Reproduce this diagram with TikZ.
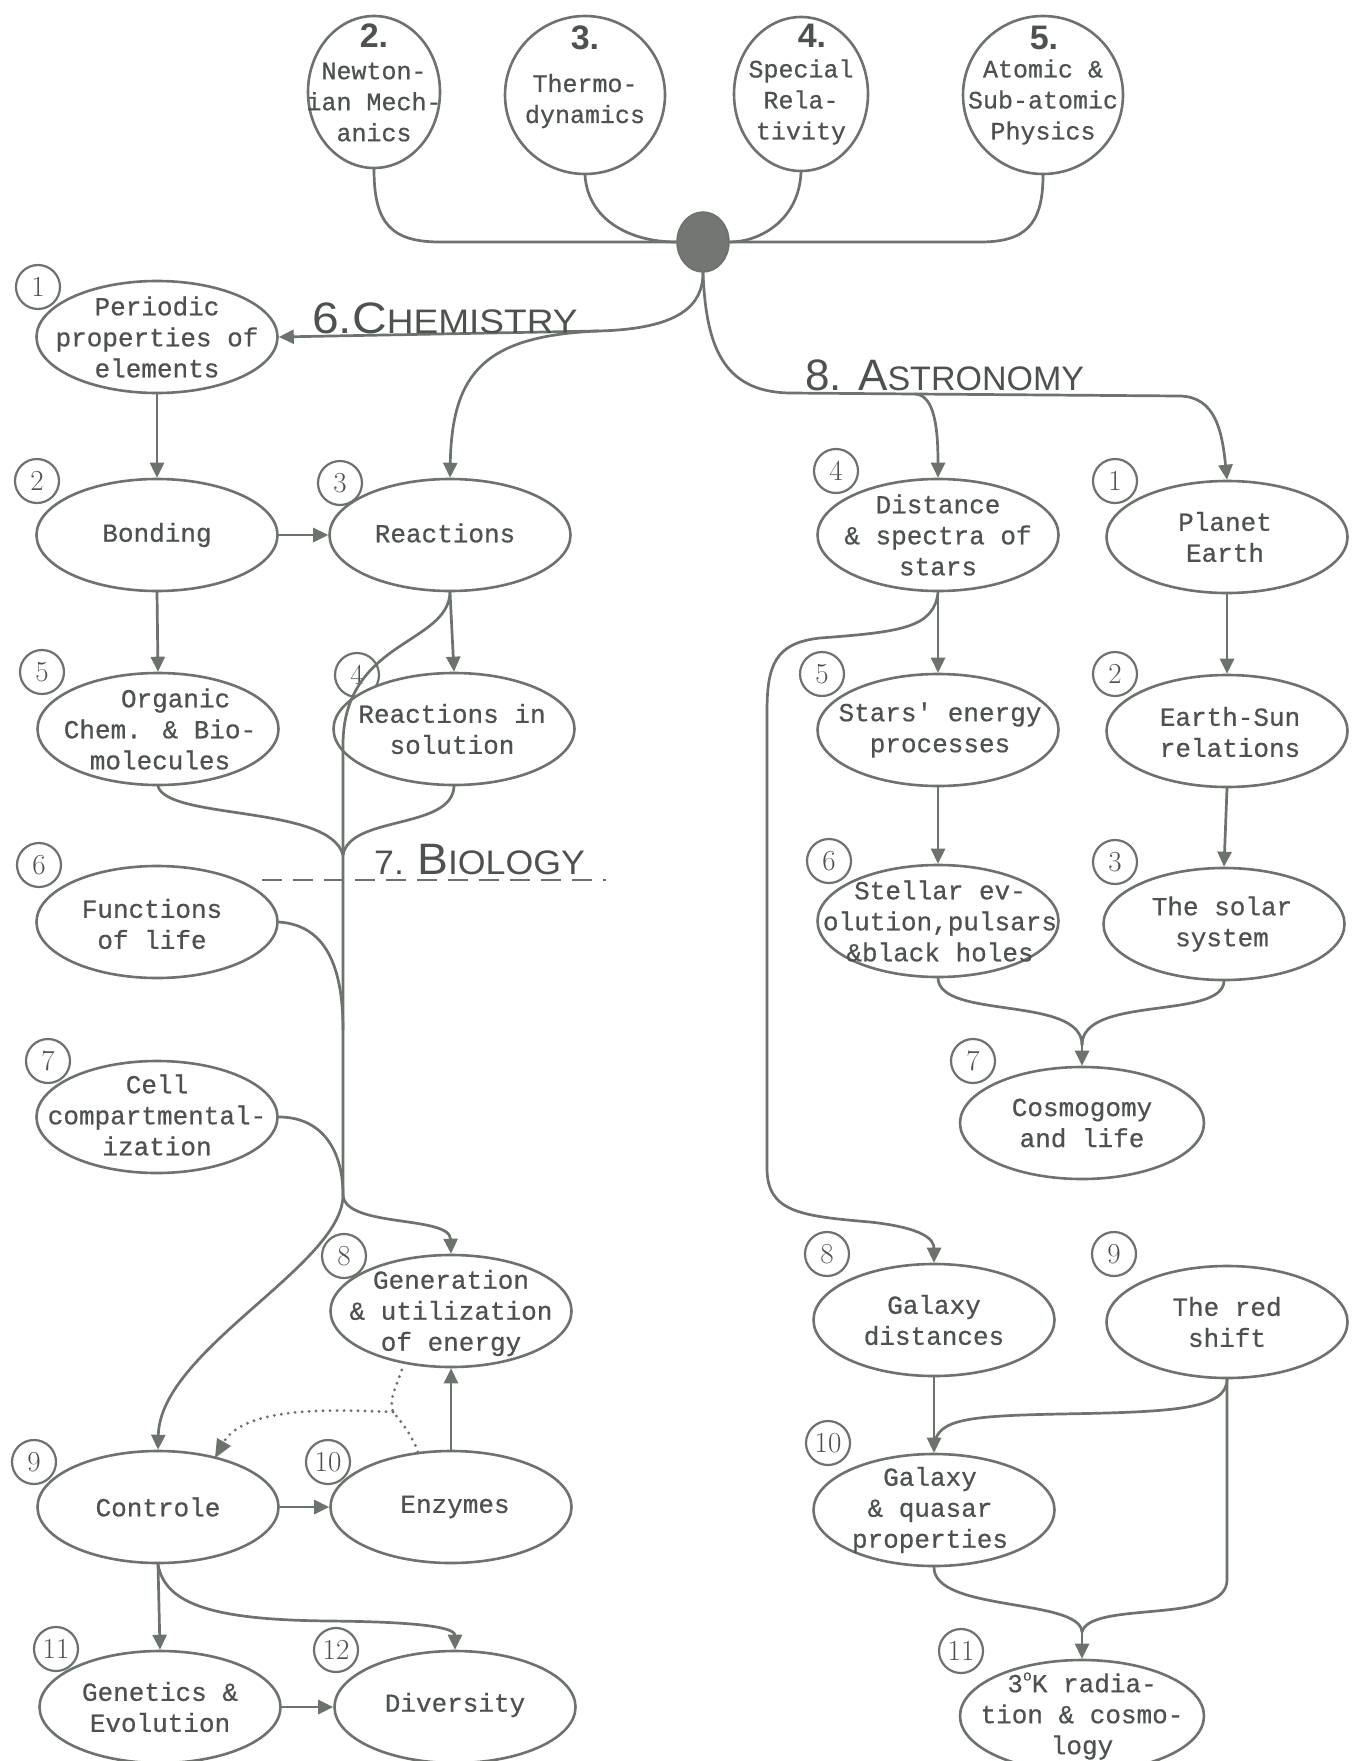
\documentclass[tikz,border=0pt]{standalone}
\usepackage{fontspec}
\newfontfamily\tw[FakeBold=0.6]{Liberation Mono}
\newfontfamily\handf{Liberation Sans}
\usetikzlibrary{shapes.geometric,arrows.meta,calc}
\definecolor{ln}{RGB}{108,114,108}
\definecolor{tx}{RGB}{78,82,78}
\definecolor{hubc}{RGB}{115,118,115}
\newcommand{\numf}{\handf\bfseries\fontsize{34}{34}\selectfont}
\newcommand{\bigf}{\fontsize{44}{44}\selectfont}
\newcommand{\smalf}{\fontsize{34}{34}\selectfont}
\begin{document}
\begin{tikzpicture}[x=1pt,y=-1pt,
 every node/.style={text=tx},
 topic/.style={ellipse, draw=ln, line width=2.6pt, fill=white, minimum width=241pt, minimum height=112pt, inner sep=0pt},
 ltext/.style={align=center, font=\tw\fontsize{26}{31}\selectfont, inner sep=0pt},
 phys/.style={ellipse, draw=ln, line width=2.6pt, fill=white, inner sep=0pt},
 badge/.style={circle, draw=ln, line width=2.2pt, fill=white, minimum size=44pt, inner sep=0pt, font=\fontsize{29}{29}\selectfont},
 conn/.style={draw=ln, line width=2.7pt, line cap=round},
 arr/.style={conn, -{Triangle[length=15pt,width=14pt]}},
 dotline/.style={draw=ln, line width=3.2pt, line cap=round, dash pattern=on 0pt off 7pt},
 sectlabel/.style={font=\handf, inner sep=0pt, anchor=base west},
]
\fill[white] (0,0) rectangle (1361,1761);
\useasboundingbox (0,0) rectangle (1361,1761);

% ---------- top physics ellipses ----------
\node[phys, minimum width=132pt, minimum height=152pt] (N) at (374,92) {};
\node[phys, minimum width=160pt, minimum height=158pt] (T) at (585,95) {};
\node[phys, minimum width=134pt, minimum height=154pt] (S) at (801,94) {};
\node[phys, minimum width=160pt, minimum height=158pt] (A) at (1043,95) {};
\node[ltext] (Nn) at (374,36) {\numf 2.};
\node[ltext, font=\tw\fontsize{25}{31}\selectfont] (Nt) at (374,102) {Newton-\\ian Mech-\\anics};
\node[ltext] (Tn) at (585,38) {\numf 3.};
\node[ltext, font=\tw\fontsize{25}{31}\selectfont] (Tt) at (585,101) {Thermo-\\dynamics};
\node[ltext] (Sn) at (812,36) {\numf 4.};
\node[ltext, font=\tw\fontsize{25}{31}\selectfont] (St) at (801,102) {Special\\Rela-\\tivity};
\node[ltext] (An) at (1044,38) {\numf 5.};
\node[ltext, font=\tw\fontsize{25}{31}\selectfont] (At) at (1043,102) {Atomic \&\\Sub-atomic\\Physics};

\node[ellipse, draw=ln, fill=hubc, line width=1.5pt, minimum width=52pt, minimum height=60pt, inner sep=0pt] (hub) at (703,242) {};

% ---------- badges ----------
\node[badge] (b1) at (38,287) {1};
\node[badge] (b2) at (37,481) {2};
\node[badge] (b3) at (340,483) {3};
\node[badge] (b5) at (42,672) {5};
\node[badge] (b4) at (357,675) {4};
\node[badge] (b6) at (39,865) {6};
\node[badge] (b7) at (48,1061) {7};
\node[badge] (b8) at (344,1256) {8};
\node[badge] (b9) at (34,1462) {9};
\node[badge] (b10) at (328,1462) {10};
\node[badge] (b11) at (56,1649) {11};
\node[badge] (b12) at (336,1650) {12};
\node[badge] (a4) at (836,471) {4};
\node[badge] (a1) at (1115,481) {1};
\node[badge] (a5) at (822,674) {5};
\node[badge] (a2) at (1115,674) {2};
\node[badge] (a6) at (829,861) {6};
\node[badge] (a3) at (1115,862) {3};
\node[badge] (a7) at (973,1061) {7};
\node[badge] (a8) at (827,1254) {8};
\node[badge] (a9) at (1114,1254) {9};
\node[badge] (a10) at (828,1443) {10};
\node[badge] (a11) at (961,1651) {11};

% ---------- chemistry / biology ----------
\node[topic] (per) at (157,337) {};
\node[topic] (bond) at (157,535) {};
\node[topic] (react) at (450,535) {};
\node[topic] (org) at (158,729) {};
\node[topic] (sol) at (454,729) {};
\node[topic] (func) at (157,922) {};
\node[topic] (cell) at (157,1117) {};
\node[topic] (gen) at (451,1311) {};
\node[topic] (ctrl) at (158,1507) {};
\node[topic] (enz) at (451,1507) {};
\node[topic] (genev) at (160,1707) {};
\node[topic] (div) at (455,1707) {};

% ---------- astronomy ----------
\node[topic] (dist) at (938,535) {};
\node[topic] (planet) at (1227,537) {};
\node[topic] (stars) at (938,730) {};
\node[topic] (esun) at (1227,731) {};
\node[topic] (stell) at (938,921) {};
\node[topic] (solar) at (1224,924) {};
\node[topic, minimum width=244pt] (cosmo) at (1082,1123) {};
\node[topic] (galdist) at (934,1320) {};
\node[topic] (red) at (1227,1322) {};
\node[topic] (galq) at (934,1510) {};
\node[topic, minimum width=244pt] (rad) at (1082,1716) {};

% ---------- texts ----------
\node[ltext] (per-t) at (157,337) {Periodic\\properties of\\elements};
\node[ltext] (bond-t) at (157,535) {Bonding};
\node[ltext] (react-t) at (445,533) {Reactions};
\node[ltext] (org-t) at (160,729) {\hspace*{1.2em}Organic\\Chem. \& Bio-\\molecules};
\node[ltext] (sol-t) at (452,729) {Reactions in\\solution};
\node[ltext] (func-t) at (152,924) {Functions\\of life};
\node[ltext] (cell-t) at (157,1115) {Cell\\compartmental-\\ization};
\node[ltext] (gen-t) at (451,1313) {Generation\\\& utilization\\of energy};
\node[ltext] (ctrl-t) at (158,1507) {Controle};
\node[ltext] (enz-t) at (455,1507) {Enzymes};
\node[ltext] (genev-t) at (160,1707) {Genetics \&\\Evolution};
\node[ltext] (div-t) at (455,1705) {Diversity};
\node[ltext] (dist-t) at (938,535) {Distance\\\& spectra of\\stars};
\node[ltext] (planet-t) at (1225,537) {Planet\\Earth};
\node[ltext] (stars-t) at (940,730) {Stars' energy\\processes};
\node[ltext] (esun-t) at (1230,732) {Earth-Sun\\relations};
\node[ltext] (stell-t) at (940,921) {Stellar ev-\\olution,pulsars\\\&black holes};
\node[ltext] (solar-t) at (1222,924) {The solar\\system};
\node[ltext] (cosmo-t) at (1082,1123) {Cosmogomy\\and life};
\node[ltext] (galdist-t) at (934,1320) {Galaxy\\distances};
\node[ltext] (red-t) at (1227,1322) {The red\\shift};
\node[ltext] (galq-t) at (930,1510) {Galaxy\\\& quasar\\properties};
\node[ltext] (rad-t) at (1082,1716) {3\raisebox{0.45em}{\fontsize{15}{15}\selectfont o}K radia-\\tion \& cosmo-\\logy};

% ---------- lines into hub ----------
\draw[conn] (N.south) .. controls (374,222) and (390,242) .. (440,242) -- (hub.west);
\draw[conn] (T.south) .. controls (588,220) and (630,242) .. (hub.west);
\draw[conn] (S.south) .. controls (799,220) and (760,242) .. (hub.east);
\draw[conn] (A.south) .. controls (1043,225) and (1025,242) .. (980,242) -- (hub.east);

% ---------- chemistry lines ----------
\coordinate (cj) at (598,331);
\draw[arr] (hub.south) .. controls (703,305) and (680,329) .. (cj) -- (per.east);
\draw[arr] (cj) .. controls (485,336) and (452,372) .. (react.north);
\draw[arr] (per.south) -- (bond.north);
\draw[arr] (bond.east) -- (react.west);
\draw[arr] (bond.south) -- (org.north);
\draw[arr] (react.south) -- (sol.north);

% trunk
\coordinate (tb) at (343,1195);
\draw[conn] (react.south) .. controls (448,645) and (343,640) .. (343,745) -- (tb);
\draw[conn] (org.south) .. controls (168,820) and (330,805) .. (343,855);
\draw[conn] (sol.south) .. controls (452,830) and (350,815) .. (343,855);
\draw[conn] (func.east) .. controls (322,925) and (343,960) .. (343,1030);
\draw[conn] (cell.east) .. controls (322,1117) and (343,1150) .. (tb);
\draw[arr] (tb) .. controls (343,1265) and (160,1350) .. (ctrl.north);
\draw[arr] (tb) .. controls (345,1228) and (450,1215) .. (gen.north);

% dotted
\coordinate (dj) at (393,1412);
\draw[dotline] (enz.121) .. controls (412,1435) and (400,1420) .. (dj) .. controls (388,1398) and (398,1385) .. (gen.228);
\draw[dotline] (dj) .. controls (340,1410) and (250,1405) .. (225,1440);
\draw[draw=none, fill=ln] (215,1458) -- (217,1438) -- (231,1446) -- cycle;

\draw[arr] (enz.north) -- (gen.south);
\draw[arr] (ctrl.east) -- (enz.west);
\draw[arr] (ctrl.south) -- (genev.north);
\draw[arr] (ctrl.south) .. controls (165,1605) and (215,1620) .. (330,1621) .. controls (440,1622) and (455,1630) .. (div.north);
\draw[arr] (genev.east) -- (div.west);

% ---------- astronomy lines ----------
\coordinate (aj) at (915,394);
\draw[arr] (hub.south) .. controls (706,345) and (722,392) .. (790,393) -- (aj) -- (1180,396) .. controls (1215,397) and (1222,430) .. (planet.north);
\draw[arr] (aj) .. controls (935,395) and (938,430) .. (dist.north);
\draw[arr] (dist.south) -- (stars.north);
\draw[arr] (dist.south) .. controls (934,628) and (900,632) .. (820,638) .. controls (775,643) and (767,665) .. (767,712) -- (767,1168) .. controls (767,1212) and (800,1216) .. (870,1222) .. controls (925,1228) and (934,1240) .. (galdist.north);
\draw[arr] (stars.south) -- (stell.north);
\draw[arr] (planet.south) -- (esun.north);
\draw[arr] (esun.south) -- (solar.north);
\coordinate (cm) at (1082,1045);
\draw[conn] (stell.south) .. controls (940,1020) and (1082,995) .. (cm);
\draw[conn] (solar.south) .. controls (1222,1020) and (1082,995) .. (cm);
\draw[arr] (cm) -- (cosmo.north);
\draw[arr] (galdist.south) -- (galq.north);
\draw[conn] (red.south) .. controls (1227,1410) and (1170,1412) .. (1060,1414) .. controls (960,1416) and (934,1420) .. (934,1450);
\coordinate (rm) at (1082,1632);
\draw[conn] (red.south) -- (1227,1580) .. controls (1227,1625) and (1090,1600) .. (rm);
\draw[conn] (galq.south) .. controls (934,1612) and (1080,1598) .. (rm);
\draw[arr] (rm) -- (rad.north);

% ---------- section labels ----------
\node[sectlabel] (chemlab) at (312,333) {\scalebox{1.09}[1]{\bigf 6.C\smalf HEMISTRY}};
\node[sectlabel] (astrolab) at (805,390) {\bigf 8. A\smalf STRONOMY};
\node[sectlabel] (biolab) at (374,874) {\scalebox{1.05}[1]{\smalf 7. \bigf B\smalf IOLOGY}};
\draw[draw=ln, line width=2.4pt, dash pattern=on 20pt off 11pt] (262,880) -- (606,880);
\end{tikzpicture}
\end{document}
